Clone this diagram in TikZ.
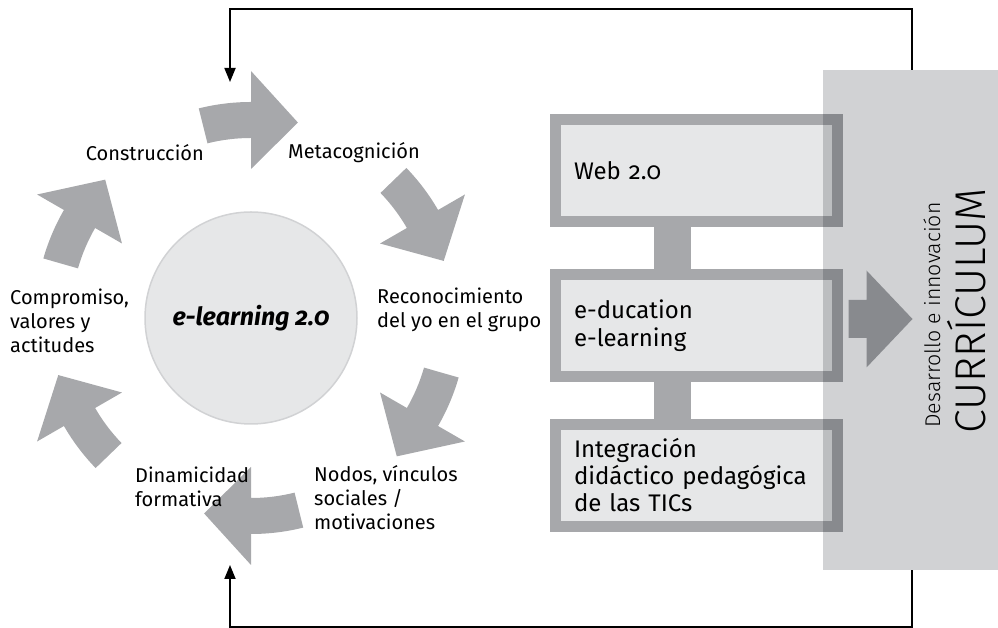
\documentclass[tikz,border=0pt]{standalone}
\usepackage{fontspec}
\setmainfont{Fira Sans}[Numbers=OldStyle]
\newfontfamily\thinfont{Fira Sans Light}[Numbers=OldStyle]
\usetikzlibrary{arrows.meta}

\definecolor{arrowgray}{HTML}{A7A8AB}
\definecolor{hubfill}{HTML}{E6E7E8}
\definecolor{hubline}{HTML}{D1D2D4}
\definecolor{panelgray}{HTML}{D1D2D4}
\definecolor{boxfill}{HTML}{E6E7E8}

\tikzset{
  cyclelabel/.style={font=\fontsize{20}{24}\selectfont, align=left, inner sep=0pt},
  tbox/.style={draw=arrowgray, line width=11pt, fill=boxfill, minimum width=282pt,
    minimum height=102pt, text width=245pt, inner xsep=18.5pt, align=left,
    font=\fontsize{24}{28}\selectfont},
  stem/.style={draw=arrowgray, line width=37pt},
  loopline/.style={draw=black, line width=1.8pt, -{Triangle[length=14pt,width=11pt]}}
}

\begin{document}
\begin{tikzpicture}[x=1pt,y=1pt]
  \useasboundingbox (0,0) rectangle (998,628);

  % centre of the cycle
  \node[circle, fill=hubfill, draw=hubline, line width=1.5pt, minimum size=212pt, inner sep=0pt,
    font=\bfseries\itshape\fontsize{25}{28}\selectfont] (hub) at (251,310) {e-learning 2.0};

  % curved arrows
  \begin{scope}[shift={(hub.center)}]
    \foreach \a in {104,44,-16,-76,-136,-196} {
      \fill[arrowgray] (\a:180) arc[start angle=\a, end angle=\a-14, radius=180]
        -- ({\a-14}:149) -- ({\a-27.5}:201) -- ({\a-14}:247) -- ({\a-14}:216)
        arc[start angle=\a-14, end angle=\a, radius=216] -- cycle;
    }
  \end{scope}

  % cycle labels
  \node[cyclelabel, anchor=east] (constr) at (204,475) {Construcción};
  \node[cyclelabel, anchor=west] (meta) at (288,475) {Metacognición};
  \node[cyclelabel, anchor=west] (recon) at (377,318) {Reconocimiento\\del yo en el grupo};
  \node[cyclelabel, anchor=west] (nodos) at (314,130) {Nodos, vínculos\\sociales /\\motivaciones};
  \node[cyclelabel, anchor=west] (dinam) at (135,141) {Dinamicidad\\formativa};
  \node[cyclelabel, anchor=west] (compr) at (10,307) {Compromiso,\\valores y\\actitudes};

  % the three boxes
  \node[tbox] (webbox) at (696.5,457.5) {Web 2.0};
  \node[tbox] (educbox) at (696.5,302.5) {e-ducation\\e-learning};
  \node[tbox, font=\fontsize{24}{27}\selectfont] (integbox) at (696.5,152.5) {Integración\\didáctico pedagógica\\de las TICs};
  \draw[stem] ([xshift=-24pt]webbox.south) -- ([xshift=-24pt]educbox.north);
  \draw[stem] ([xshift=-24pt]educbox.south) -- ([xshift=-24pt]integbox.north);

  % arrow into the curriculum
  \fill[arrowgray] ([xshift=5.5pt,yshift=6.5pt]educbox.east) ++(0,19) -- ++(18,0) -- ++(0,29.5)
    -- ++(46,-48.5) -- ++(-46,-48.5) -- ++(0,29.5) -- ++(-18,0) -- cycle;

  % curriculum panel
  \begin{scope}[blend mode=multiply]
    \node[fill=panelgray, minimum width=175pt, minimum height=500pt, inner sep=0pt] (curr) at (910.5,308) {};
  \end{scope}
  \node[rotate=90, font=\thinfont\fontsize{21.3}{24}\selectfont, inner sep=0pt] (desa) at (932,313) {Desarrollo e innovación};
  \node[rotate=90, font=\thinfont\fontsize{43}{46}\selectfont, inner sep=0pt] (currtext) at (967,317) {CURRÍCULUM};

  % feedback loop
  \coordinate (topin) at (230,546);
  \coordinate (botin) at (230,63);
  \draw[loopline] ([xshift=1.5pt]curr.north) -- ++(0,61) -| (topin);
  \draw[loopline] ([xshift=1.5pt]curr.south) -- ++(0,-57) -| (botin);
\end{tikzpicture}
\end{document}
